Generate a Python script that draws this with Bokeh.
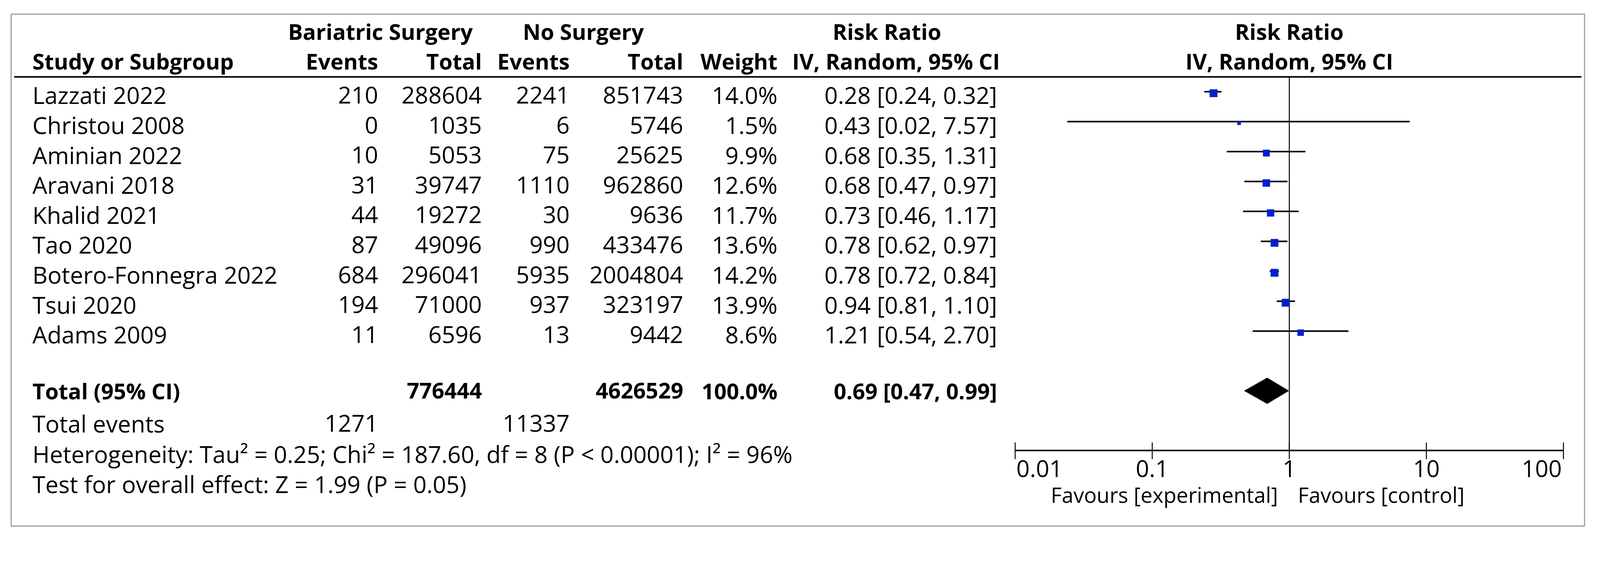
import math
from bokeh.plotting import figure
from bokeh.models import Range1d, LogScale, ColumnDataSource
from bokeh.core.properties import value
from bokeh.embed import file_html
from bokeh.resources import INLINE

# ---------------- data ----------------
studies = ["Lazzati 2022", "Christou 2008", "Aminian 2022", "Aravani 2018", "Khalid 2021",
           "Tao 2020", "Botero-Fonnegra 2022", "Tsui 2020", "Adams 2009"]
exp_events = [210, 0, 10, 31, 44, 87, 684, 194, 11]
exp_total = [288604, 1035, 5053, 39747, 19272, 49096, 296041, 71000, 6596]
ctl_events = [2241, 6, 75, 1110, 30, 990, 5935, 937, 13]
ctl_total = [851743, 5746, 25625, 962860, 9636, 433476, 2004804, 323197, 9442]
weights = [14.0, 1.5, 9.9, 12.6, 11.7, 13.6, 14.2, 13.9, 8.6]
rr = [0.28, 0.43, 0.68, 0.68, 0.73, 0.78, 0.78, 0.94, 1.21]
rr_lo = [0.24, 0.024, 0.35, 0.47, 0.46, 0.62, 0.72, 0.81, 0.54]
rr_hi = [0.32, 7.57, 1.31, 0.97, 1.17, 0.97, 0.84, 1.10, 2.70]

total_exp = 776444
total_ctl = 4626529
total_weight = 100.0
events_exp_sum = 1271
events_ctl_sum = 11337
pooled_rr = 0.69
pooled_lo = 0.47
pooled_hi = 0.99

tick_values = [0.01, 0.1, 1, 10, 100]
tick_labels = ["0.01", "0.1", "1", "10", "100"]

heterogeneity = "Heterogeneity: Tau\u00b2 = 0.25; Chi\u00b2 = 187.60, df = 8 (P < 0.00001); I\u00b2 = 96%"
overall = "Test for overall effect: Z = 1.99 (P = 0.05)"

# ---------------- layout (coordinates in picture pixels) ----------------
S = 4211.0 / 4096.0          # picture px per css px
W, H = 4080, 1385            # css px
X0, X1 = 8 * S, (8 + W) * S
Y0, Y1 = 8 * S, (8 + H) * S
X_ONE, DEC = 3401.0, 360.75  # picture x of RR = 1 and px per decade

FONT = value("Open Sans")
FS = 60
FSB = 56
FSF = 54

p = figure(width=W, height=H,
           x_range=Range1d(X0, X1), y_range=Range1d(Y1, Y0),
           x_axis_type=None, y_axis_type=None,
           toolbar_location=None, output_backend="svg", min_border=0)
p.outline_line_color = None
p.background_fill_color = "white"
p.border_fill_color = "white"

p.extra_x_ranges = {"rr": Range1d(10 ** ((X0 - X_ONE) / DEC), 10 ** ((X1 - X_ONE) / DEC))}
p.extra_x_scales = {"rr": LogScale()}


def txt(xs, ys, texts, align="left", bold=False, rng="default", x_offset=0, size=None):
    src = ColumnDataSource(dict(x=list(xs), y=list(ys), t=list(texts)))
    fs = size if size is not None else (FSB if bold else FS)
    p.text("x", "y", "t", source=src, text_align=align, text_baseline="middle",
           text_font=FONT, text_font_size=value(f"{fs}px"),
           text_font_style="bold" if bold else "normal", text_color="black",
           x_range_name=rng, x_offset=x_offset)


# outer box
p.quad(left=[37], right=[4178], top=[45], bottom=[1392], fill_color=None,
       line_color="#a0a0a0", line_width=3)

n = len(studies)
ROW0, STEP = 249.0, 78.75
row_y = [ROW0 + STEP * i for i in range(n)]
text_y = [y + 9 for y in row_y]

# column anchors
C_STUDY, C_EE, C_ET, C_CE, C_CT, C_W, C_CI = 93, 1003, 1276, 1507, 1806, 2054, 2632

# headers
H1, H2 = 90, 168
txt([1009, 1543, 2342], [H1] * 3, ["Bariatric Surgery", "No Surgery", "Risk Ratio"], "center", True)
txt([1], [H1], ["Risk Ratio"], "center", True, "rr")
txt([C_STUDY], [H2], ["Study or Subgroup"], "left", True)
txt([C_EE, C_ET, C_CE, C_CT, C_W], [H2] * 5, ["Events", "Total", "Events", "Total", "Weight"], "right", True)
txt([2366], [H2], ["IV, Random, 95% CI"], "center", True)
txt([1], [H2], ["IV, Random, 95% CI"], "center", True, "rr")
p.segment(x0=[45], x1=[4170], y0=[210], y1=[210], line_color="black", line_width=4)

# study rows
txt([C_STUDY] * n, text_y, studies, "left")
txt([C_EE] * n, text_y, [str(v) for v in exp_events], "right")
txt([C_ET] * n, text_y, [str(v) for v in exp_total], "right")
txt([C_CE] * n, text_y, [str(v) for v in ctl_events], "right")
txt([C_CT] * n, text_y, [str(v) for v in ctl_total], "right")
txt([C_W] * n, text_y, [f"{w:.1f}%" for w in weights], "right")
txt([C_CI] * n, text_y, [f"{r:.2f} [{a:.2f}, {b:.2f}]" for r, a, b in zip(rr, rr_lo, rr_hi)], "right")

# total rows
TOT_Y = 1036
txt([C_STUDY], [TOT_Y], ["Total (95% CI)"], "left", True)
txt([C_ET, C_CT, C_W], [TOT_Y] * 3, [str(total_exp), str(total_ctl), f"{total_weight:.1f}%"], "right", True)
txt([C_CI], [TOT_Y], [f"{pooled_rr:.2f} [{pooled_lo:.2f}, {pooled_hi:.2f}]"], "right", True)

txt([C_STUDY], [1122], ["Total events"], "left")
txt([C_EE, C_CE], [1122, 1122], [str(events_exp_sum), str(events_ctl_sum)], "right")
txt([C_STUDY], [1202], [heterogeneity], "left")
txt([C_STUDY], [1281], [overall], "left")

# ---------------- forest plot ----------------
AX_Y = 1193
p.segment(x0=[1], x1=[1], y0=[210], y1=[AX_Y], x_range_name="rr", line_color="black", line_width=2.5)

p.segment(x0=rr_lo, x1=rr_hi, y0=row_y, y1=row_y, x_range_name="rr", line_color="black", line_width=4)
sizes = [(4 + 4.3 * math.sqrt(w)) / S for w in weights]
p.rect(x=rr, y=[y + 4 for y in row_y], width=sizes, height=sizes,
       width_units="screen", height_units="screen", x_range_name="rr",
       fill_color="#0022cc", line_color="#0022cc", line_width=0.5)

p.patch(x=[pooled_lo, pooled_rr, pooled_hi, pooled_rr],
        y=[TOT_Y, TOT_Y - 34, TOT_Y, TOT_Y + 34],
        x_range_name="rr", fill_color="black", line_color="black")

# axis
p.segment(x0=[tick_values[0]], x1=[tick_values[-1]], y0=[AX_Y], y1=[AX_Y], x_range_name="rr",
          line_color="black", line_width=4)
p.segment(x0=tick_values, x1=tick_values, y0=[AX_Y - 21] * len(tick_values), y1=[AX_Y + 23] * len(tick_values),
          x_range_name="rr", line_color="black", line_width=2.5)
aligns = ["left"] + ["center"] * (len(tick_values) - 2) + ["right"]
for tv, tl, al in zip(tick_values, tick_labels, aligns):
    txt([tv], [1241], [tl], al, False, "rr", x_offset=(3 if al == "left" else (-4 if al == "right" else 0)))
txt([1], [1309], ["Favours [experimental]"], "right", False, "rr", x_offset=-29, size=FSF)
txt([1], [1309], ["Favours [control]"], "left", False, "rr", x_offset=22, size=FSF)

open("out.html", "w").write(file_html(p, INLINE))
